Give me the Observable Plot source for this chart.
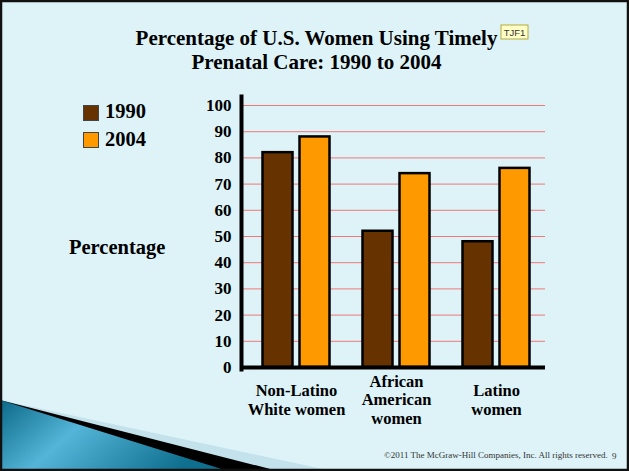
<!DOCTYPE html>
<html><head><meta charset="utf-8">
<script src="https://cdn.jsdelivr.net/npm/d3@7"></script>
<script src="https://cdn.jsdelivr.net/npm/@observablehq/plot@0.6"></script>
<style>
body{margin:0;background:#fff;}
#slide{position:relative;width:629px;height:471px;overflow:hidden;background:#ddf3f8;font-family:"Liberation Serif","Times New Roman",serif;}
#deco{position:absolute;left:0;top:0;}
#chart{position:absolute;left:0;top:0;}
#chart svg{display:block;}
</style></head><body>
<div id="slide">
<svg id="deco" width="629" height="471" xmlns="http://www.w3.org/2000/svg">
  <defs>
    <linearGradient id="wave" x1="0" y1="0" x2="1" y2="0.35">
      <stop offset="0" stop-color="#0a6987"/>
      <stop offset="0.42" stop-color="#55b5d8"/>
      <stop offset="1" stop-color="#0e6f8f"/>
    </linearGradient>
  </defs>
  <polygon points="0,400 332,471 0,471" fill="#c3e2ec"/>
  <polygon points="0,400 278,471 0,471" fill="#000"/>
  <polygon points="0,400 228,471 0,471" fill="url(#wave)"/>
  <g font-family="Liberation Serif, Times New Roman, serif" font-weight="bold" fill="#000">
    <text id="title1" x="316.5" y="45" font-size="21" text-anchor="middle">Percentage of U.S. Women Using Timely</text>
    <text id="title2" x="316.5" y="69" font-size="21" text-anchor="middle">Prenatal Care: 1990 to 2004</text>
    <text x="69" y="254" font-size="20.5">Percentage</text>
  </g>
  <g id="legend" font-family="Liberation Serif, Times New Roman, serif" font-weight="bold" font-size="20.5"></g>
  <rect x="501" y="25" width="27" height="14" fill="#ffffc6" stroke="#b6ab3c" stroke-width="1"/>
  <text x="514.5" y="36" font-family="Liberation Sans, Arial, sans-serif" font-size="9.5" text-anchor="middle" fill="#333">TJF1</text>
  <text x="384" y="458" font-family="Liberation Serif, Times New Roman, serif" font-size="9" fill="#333">©2011 The McGraw-Hill Companies, Inc. All rights reserved.</text>
  <text x="612" y="459" font-family="Liberation Serif, Times New Roman, serif" font-size="9" fill="#333">9</text>
  <rect x="1" y="1" width="627" height="469" fill="none" stroke="#111" stroke-width="2.5"/>
</svg>
<div id="chart"></div>
</div>
<script>
// ---- data ----
const categories = ["Non-Latino\nWhite women", "African\nAmerican\nwomen", "Latino\nwomen"];
const years = ["1990", "2004"];
const values1990 = [82, 52, 48];
const values2004 = [88, 74, 76];
const yTicks = [0, 10, 20, 30, 40, 50, 60, 70, 80, 90, 100];
const colors = ["#663300", "#ff9900"];

const rows = [];
categories.forEach((c, i) => {
  rows.push({category: c, year: years[0], value: values1990[i]});
  rows.push({category: c, year: years[1], value: values2004[i]});
});

// legend
const lg = document.getElementById("legend");
const ns = "http://www.w3.org/2000/svg";
years.forEach((y, i) => {
  const r = document.createElementNS(ns, "rect");
  r.setAttribute("x", 83.5); r.setAttribute("y", 105.5 + i * 27);
  r.setAttribute("width", 15); r.setAttribute("height", 15);
  r.setAttribute("fill", colors[i]); r.setAttribute("stroke", "#444"); r.setAttribute("stroke-width", 1);
  lg.appendChild(r);
  const t = document.createElementNS(ns, "text");
  t.setAttribute("x", 105); t.setAttribute("y", 118 + i * 28);
  t.textContent = y;
  lg.appendChild(t);
});

const chart = Plot.plot({
  width: 629,
  height: 471,
  marginLeft: 241,
  marginRight: 84,
  marginTop: 96,
  marginBottom: 102,
  style: {background: "transparent", fontFamily: "Liberation Serif, Times New Roman, serif", color: "#000", overflow: "visible"},
  x: {domain: categories, range: [245.5, 545.5], padding: 0, label: null},
  y: {domain: [0, 100], range: [367, 105], label: null},
  color: {domain: years, range: colors},
  marks: [
    Plot.ruleY(yTicks.filter(d => d > 0), {stroke: "#f07878", strokeWidth: 1}),
    Plot.barY(rows.filter(d => d.year === years[0]), {x: "category", y: "value", fill: "year", stroke: "#000", strokeWidth: 2.5, insetLeft: 16.5, insetRight: 53.5}),
    Plot.barY(rows.filter(d => d.year === years[1]), {x: "category", y: "value", fill: "year", stroke: "#000", strokeWidth: 2.5, insetLeft: 53.5, insetRight: 16.5}),
    Plot.frame({anchor: "left", stroke: "#000", strokeWidth: 4}),
    Plot.ruleY([0], {stroke: "#000", strokeWidth: 4}),
    Plot.axisY(yTicks, {tickSize: 0, tickPadding: 10, fontSize: 17, fontWeight: "bold", label: null}),
    Plot.axisX({tickSize: 0, tickPadding: 30, fontSize: 16.5, fontWeight: "bold", lineAnchor: "middle", lineHeight: 1.12, label: null})
  ]
});
document.getElementById("chart").appendChild(chart);
</script>
</body></html>
